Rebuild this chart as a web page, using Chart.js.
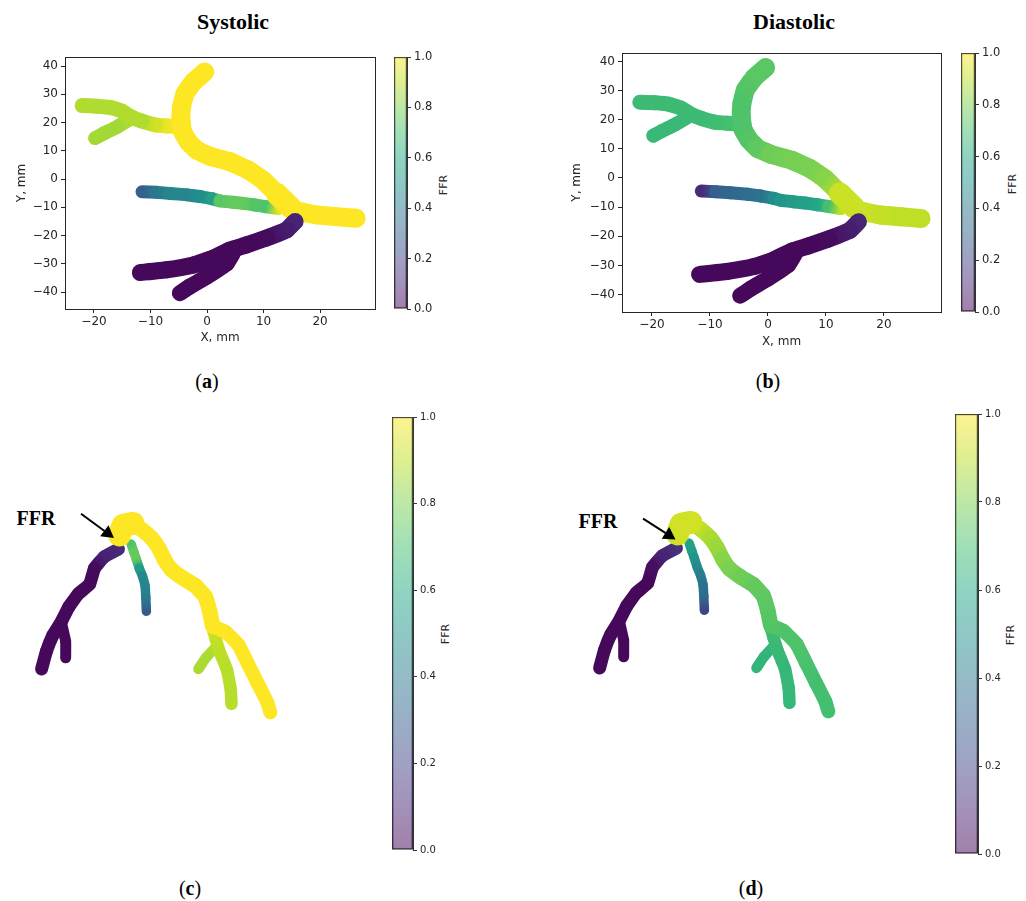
<!DOCTYPE html>
<html><head><meta charset="utf-8">
<script src="https://cdn.jsdelivr.net/npm/chart.js@4.4.1/dist/chart.umd.min.js"></script>
<style>
body{margin:0;background:#fff;width:1026px;height:901px;position:relative;overflow:hidden;font-family:"DejaVu Sans",sans-serif}
canvas{position:absolute}
.t{position:absolute;font-family:"Liberation Serif","DejaVu Serif",serif;color:#000;white-space:nowrap;transform:translate(-50%,-50%);line-height:1}
.title{font-weight:bold;font-size:22px}
.lab{font-size:20px}
.ann{font-weight:bold;font-size:20px}
.cbl{position:absolute;font-family:"DejaVu Sans",sans-serif;font-size:11px;color:#262626;white-space:nowrap;transform:translate(-50%,-50%) rotate(-90deg);line-height:1}
</style></head><body>
<div class="t title" style="left:233px;top:22px">Systolic</div>
<div class="t title" style="left:794px;top:22px">Diastolic</div>
<div class="t lab" style="left:207px;top:381px">(<b>a</b>)</div>
<div class="t lab" style="left:768px;top:381px">(<b>b</b>)</div>
<div class="t lab" style="left:190px;top:888px">(<b>c</b>)</div>
<div class="t lab" style="left:751px;top:888px">(<b>d</b>)</div>
<div class="t ann" style="left:36px;top:518px">FFR</div>
<div class="t ann" style="left:598px;top:521px">FFR</div>
<div class="cbl" style="left:443px;top:185px">FFR</div>
<div class="cbl" style="left:1012px;top:184px">FFR</div>
<div class="cbl" style="left:445px;top:634px">FFR</div>
<div class="cbl" style="left:1010px;top:635px">FFR</div>
<script>
// ---------- tick labels ----------
const xTicks = [-20, -10, 0, 10, 20];
const yTicks = [-40, -30, -20, -10, 0, 10, 20, 30, 40];
const cbTicks = [0, 0.2, 0.4, 0.6, 0.8, 1.0];
const cbRange = [0, 1];

// ---------- panels (a)/(b): 2D centerlines, mm ----------
const mainX = [-0.4, -2.4, -3.9, -4.5, -4.6, -4.3, -3.3, -1.8, 0.5, 4.1, 7.3, 9.9, 12.3, 14.1, 15.8, 19.4, 22.9, 26.4];
const mainY = [37.9, 34.4, 30.2, 25.5, 20.8, 16.7, 13.2, 10.2, 8.1, 6.1, 3.2, -0.4, -5.1, -8.6, -11.2, -12.7, -13.3, -13.9];
const sysMain = [1.0, 1.0, 1.0, 1.0, 1.0, 1.0, 1.0, 1.0, 1.0, 1.0, 1.0, 1.0, 1.0, 1.0, 1.0, 1.0, 1.0, 1.0];
const diaMain = [0.74, 0.74, 0.73, 0.72, 0.72, 0.72, 0.73, 0.75, 0.78, 0.79, 0.80, 0.82, 0.90, 0.92, 0.92, 0.91, 0.90, 0.90];

const bulgeX = [12.4, 14.8];
const bulgeY = [-5.3, -10.0];
const sysBulge = [1.0, 1.0];
const diaBulge = [0.92, 0.92];

const leftX = [-4.6, -7.0, -9.2, -11.5, -13.3, -15.0, -17.0, -19.5, -22.1];
const leftY = [18.5, 18.8, 19.2, 20.5, 21.9, 24.0, 25.3, 25.8, 26.0];
const sysLeft = [0.99, 0.98, 0.93, 0.88, 0.88, 0.88, 0.88, 0.88, 0.88];
const diaLeft = [0.72, 0.70, 0.69, 0.68, 0.68, 0.68, 0.68, 0.68, 0.68];

const subX = [-13.6, -15.9, -18.3, -19.8];
const subY = [21.2, 18.5, 16.1, 14.5];
const sysSub = [0.88, 0.86, 0.86, 0.86];
const diaSub = [0.68, 0.67, 0.67, 0.67];

const midX = [-11.5, -9.0, -6.5, -3.5, -1.2, 1.0, 2.3, 4.5, 6.4, 8.5, 10.5, 12.5];
const midY = [-4.5, -4.7, -5.1, -5.6, -6.2, -7.0, -7.7, -8.2, -8.6, -9.2, -9.8, -10.5];
const sysMid = [0.30, 0.40, 0.45, 0.46, 0.48, 0.56, 0.74, 0.76, 0.76, 0.73, 0.72, 0.95];
const diaMid = [0.12, 0.30, 0.33, 0.35, 0.38, 0.48, 0.52, 0.55, 0.57, 0.60, 0.70, 0.90];

const lowX = [15.6, 14.1, 10.5, 7.0, 4.1, 1.1, -2.4, -7.1, -11.8];
const lowY = [-15.0, -18.0, -20.9, -23.3, -25.1, -28.0, -30.4, -32.1, -33.1];
const sysLow = [0.10, 0.08, 0.03, 0.02, 0.02, 0.02, 0.02, 0.02, 0.02];
const diaLow = [0.10, 0.08, 0.03, 0.02, 0.02, 0.02, 0.02, 0.02, 0.02];

const lowSubX = [4.6, 3.5, 0.0, -3.0, -4.8];
const lowSubY = [-26.2, -29.8, -34.5, -38.0, -40.4];
const sysLowSub = [0.02, 0.02, 0.02, 0.02, 0.02];
const diaLowSub = [0.02, 0.02, 0.02, 0.02, 0.02];

// ---------- panels (c)/(d): projected 3D tree, arbitrary units ----------
const blobX = [-0.25, 0.75, 3.25];
const blobY = [-3.5, -1.0, -0.5];
const sysBlob = [1.0, 1.0, 1.0];
const diaBlob = [0.93, 0.93, 0.93];

const trunkX = [0.75, 3.25, 5.75, 8.25, 10.0, 11.5, 13.25, 16.25, 19.5, 22.0, 23.25, 24.0];
const trunkY = [-0.25, -0.75, -2.25, -4.5, -7.0, -10.0, -12.5, -14.75, -16.75, -19.5, -23.5, -27.25];
const sysTrunk = [1.0, 1.0, 1.0, 1.0, 1.0, 1.0, 1.0, 1.0, 1.0, 1.0, 1.0, 1.0];
const diaTrunk = [0.93, 0.92, 0.90, 0.87, 0.85, 0.82, 0.80, 0.78, 0.76, 0.75, 0.74, 0.73];

const rightX = [24.0, 27.4, 30.75, 33.25, 35.75, 38.25, 39.0];
const rightY = [-27.25, -28.8, -32.2, -37.2, -42.2, -47.2, -49.7];
const sysRight = [1.0, 1.0, 1.0, 1.0, 1.0, 1.0, 1.0];
const diaRight = [0.73, 0.72, 0.72, 0.71, 0.70, 0.70, 0.70];

const diagX = [24.0, 24.75, 25.75, 27.75, 28.7, 28.9];
const diagY = [-28.0, -30.5, -33.75, -38.75, -43.75, -47.5];
const sysDiag = [0.96, 0.91, 0.90, 0.89, 0.89, 0.89];
const diaDiag = [0.70, 0.68, 0.67, 0.66, 0.66, 0.66];

const twigX = [25.0, 22.25, 20.3];
const twigY = [-32.5, -35.5, -38.4];
const sysTwig = [0.88, 0.87, 0.87];
const diaTwig = [0.66, 0.65, 0.65];

const rcaX = [-0.5, -4.25, -6.75, -8.0, -10.9, -13.4, -15.5, -17.6, -19.25, -20.5];
const rcaY = [-7.2, -9.25, -12.2, -16.3, -18.8, -22.2, -26.3, -29.7, -33.8, -38.4];
const sysRca = [0.12, 0.09, 0.03, 0.02, 0.02, 0.02, 0.02, 0.02, 0.02, 0.02];
const diaRca = [0.14, 0.10, 0.04, 0.02, 0.02, 0.02, 0.02, 0.02, 0.02, 0.02];

const rcaSubX = [-15.25, -14.25, -14.25];
const rcaSubY = [-26.75, -31.25, -35.5];
const sysRcaSub = [0.02, 0.02, 0.02];
const diaRcaSub = [0.02, 0.02, 0.02];

const tealX = [2.8, 3.5, 4.1, 4.9, 5.75, 6.4, 6.6, 6.75];
const tealY = [-5.9, -8.0, -9.7, -12.2, -14.25, -16.75, -19.7, -23.4];
const sysTeal = [0.72, 0.76, 0.76, 0.55, 0.47, 0.45, 0.42, 0.28];
const diaTeal = [0.58, 0.55, 0.52, 0.47, 0.42, 0.38, 0.35, 0.20];

// annotation arrows (tail, head) in the same units
const arrowCX = [-10.25, -3.35];
const arrowCY = [2.0, -3.05];
const arrowDX = [-9.2, -2.5];
const arrowDY = [0.5, -3.8];

// ---------- helpers ----------
const VIR = [[68,1,84],[72,36,117],[65,68,135],[53,95,141],[42,120,142],[33,145,140],[34,168,132],[68,191,112],[122,209,81],[189,223,38],[253,231,37]];
function vir(f, a) {
  if (a === undefined) a = 1;
  f = Math.max(0, Math.min(1, f));
  const p = f * 10, i = Math.min(9, Math.floor(p)), t = p - i;
  const c = VIR[i].map((v, k) => Math.round(v + (VIR[i + 1][k] - v) * t));
  return 'rgba(' + c[0] + ',' + c[1] + ',' + c[2] + ',' + a + ')';
}
function mk(l, t, w, h) {
  const c = document.createElement('canvas');
  c.width = w; c.height = h;
  c.style.left = l + 'px'; c.style.top = t + 'px';
  c.style.width = w + 'px'; c.style.height = h + 'px';
  document.body.appendChild(c);
  return c;
}
const minus = v => String(v).replace('-', '\u2212');
const TXT = '#262626';

function vesselSet(g2d, xs, ys, fs, w) {
  return {
    data: xs.map((v, i) => ({x: v, y: ys[i]})),
    showLine: true, borderWidth: w, pointRadius: 0, tension: 0.1,
    borderCapStyle: 'round', borderJoinStyle: 'round',
    borderColor: vir(fs[0]),
    segment: {
      borderColor: c => {
        const a = c.p0, b = c.p1;
        const gr = g2d.createLinearGradient(a.x, a.y, b.x, b.y);
        gr.addColorStop(0, vir(fs[c.p0DataIndex]));
        gr.addColorStop(1, vir(fs[c.p1DataIndex]));
        return gr;
      }
    }
  };
}
function arrowSet(xs, ys, rot) {
  return {
    data: xs.map((v, i) => ({x: v, y: ys[i]})),
    showLine: true, borderWidth: 2, borderColor: '#000',
    pointRadius: [0, 8], pointStyle: 'triangle', pointRotation: rot,
    pointBackgroundColor: '#000', pointBorderWidth: 0
  };
}
const base = {
  responsive: false, animation: false, events: [],
  plugins: {legend: {display: false}, tooltip: {enabled: false}}
};

function mapChart(cv, xr, yr, yw, xh, ytp, pad, F) {
  const g = cv.getContext('2d');
  const tickFont = {family: 'DejaVu Sans', size: 12};
  new Chart(g, {
    type: 'scatter',
    data: {datasets: [
      vesselSet(g, lowX, lowY, F.low, 17),
      vesselSet(g, lowSubX, lowSubY, F.lowSub, 16),
      vesselSet(g, bulgeX, bulgeY, F.bulge, 22),
      vesselSet(g, mainX, mainY, F.main, 19),
      vesselSet(g, leftX, leftY, F.left, 15),
      vesselSet(g, subX, subY, F.sub, 14),
      vesselSet(g, midX, midY, F.mid, 13)
    ]},
    options: Object.assign({}, base, {
      layout: {padding: pad},
      scales: {
        x: {type: 'linear', position: 'bottom', min: xr[0], max: xr[1],
          afterBuildTicks: s => { s.ticks = xTicks.map(v => ({value: v})); },
          afterFit: s => { s.height = xh; },
          ticks: {font: tickFont, color: TXT, padding: 2, maxRotation: 0, callback: v => minus(v)},
          grid: {display: true, drawOnChartArea: false, drawTicks: true, tickLength: 4, color: TXT},
          border: {display: true, color: TXT, width: 1},
          title: {display: true, text: 'X, mm', font: tickFont, color: TXT, padding: {top: 0, bottom: 0}}
        },
        y: {type: 'linear', position: 'left', min: yr[0], max: yr[1],
          afterBuildTicks: s => { s.ticks = yTicks.map(v => ({value: v})); },
          afterFit: s => { s.width = yw; },
          ticks: {font: tickFont, color: TXT, padding: 3, callback: v => minus(v)},
          grid: {display: true, drawOnChartArea: false, drawTicks: true, tickLength: 4, color: TXT},
          border: {display: true, color: TXT, width: 1},
          title: {display: true, text: 'Y, mm', font: tickFont, color: TXT, padding: {top: ytp, bottom: 0}}
        },
        x2: {type: 'linear', axis: 'x', position: 'top', min: xr[0], max: xr[1],
          ticks: {display: false}, grid: {display: false, drawTicks: false},
          border: {display: true, color: TXT, width: 1}, afterFit: s => { s.height = 0; }},
        y2: {type: 'linear', axis: 'y', position: 'right', min: yr[0], max: yr[1],
          ticks: {display: false}, grid: {display: false, drawTicks: false},
          border: {display: true, color: TXT, width: 1}, afterFit: s => { s.width = 0; }}
      }
    })
  });
}

function treeChart(cv, F, ax, ay, rot) {
  const g = cv.getContext('2d');
  new Chart(g, {
    type: 'scatter',
    data: {datasets: [
      arrowSet(ax, ay, rot),
      vesselSet(g, blobX, blobY, F.blob, 23),
      vesselSet(g, trunkX, trunkY, F.trunk, 15.5),
      vesselSet(g, rightX, rightY, F.right, 14),
      vesselSet(g, diagX, diagY, F.diag, 12.5),
      vesselSet(g, twigX, twigY, F.twig, 10.5),
      vesselSet(g, rcaX, rcaY, F.rca, 13),
      vesselSet(g, rcaSubX, rcaSubY, F.rcaSub, 11),
      vesselSet(g, tealX, tealY, F.teal, 9.5)
    ]},
    options: Object.assign({}, base, {
      layout: {padding: 0},
      scales: {
        x: {type: 'linear', display: false, min: -29.25, max: 66.75},
        y: {type: 'linear', display: false, min: -71.75, max: 28.25}
      }
    })
  });
}

function colorbar(cv, yw, fs) {
  const g = cv.getContext('2d');
  new Chart(g, {
    type: 'bar',
    data: {labels: ['FFR'], datasets: [{
      data: [cbRange],
      backgroundColor: ctx => {
        const a = ctx.chart.chartArea;
        if (!a) return 'rgba(0,0,0,0)';
        const gr = ctx.chart.ctx.createLinearGradient(0, a.bottom, 0, a.top);
        for (let i = 0; i <= 20; i++) gr.addColorStop(i / 20, vir(i / 20, 0.5));
        return gr;
      },
      borderColor: '#333', borderWidth: 1, borderSkipped: false,
      barPercentage: 1, categoryPercentage: 1
    }]},
    options: Object.assign({}, base, {
      layout: {padding: {top: 10, bottom: 10, left: 0, right: 0}},
      scales: {
        x: {display: false},
        y: {position: 'right', min: cbRange[0], max: cbRange[1],
          afterBuildTicks: s => { s.ticks = cbTicks.map(v => ({value: v})); },
          afterFit: s => { s.width = yw; },
          ticks: {font: {family: 'DejaVu Sans', size: fs}, color: TXT, padding: 3, callback: v => Number(v).toFixed(1)},
          grid: {display: true, drawOnChartArea: false, drawTicks: true, tickLength: 4, color: '#333'},
          border: {display: true, color: '#333', width: 1}
        }
      }
    })
  });
}

// (a) systolic 2D
mapChart(mk(0, 45, 380, 300), [-25.13, 29.73], [-46.0, 43.2], 65, 36, 15,
  {left: 0, top: 12, right: 5, bottom: 0},
  {main: sysMain, bulge: sysBulge, left: sysLeft, sub: sysSub, mid: sysMid, low: sysLow, lowSub: sysLowSub});
colorbar(mk(394, 47, 60, 272), 47, 11.5);

// (b) diastolic 2D
mapChart(mk(560, 40, 386, 309), [-25.17, 29.83], [-46.0, 42.9], 62, 37, 10,
  {left: 0, top: 13, right: 5, bottom: 0},
  {main: diaMain, bulge: diaBulge, left: diaLeft, sub: diaSub, mid: diaMid, low: diaLow, lowSub: diaLowSub});
colorbar(mk(961, 43, 60, 279), 46, 11.5);

// (c) systolic 3D view
treeChart(mk(0, 405, 385, 400),
  {blob: sysBlob, trunk: sysTrunk, right: sysRight, diag: sysDiag, twig: sysTwig, rca: sysRca, rcaSub: sysRcaSub, teal: sysTeal},
  arrowCX, arrowCY, 127);
colorbar(mk(392, 407, 60, 453), 39, 10);

// (d) diastolic 3D view
treeChart(mk(558, 404, 385, 400),
  {blob: diaBlob, trunk: diaTrunk, right: diaRight, diag: diaDiag, twig: diaTwig, rca: diaRca, rcaSub: diaRcaSub, teal: diaTeal},
  arrowDX, arrowDY, 123);
colorbar(mk(955, 404, 60, 460), 37, 10);
</script>
</body></html>
